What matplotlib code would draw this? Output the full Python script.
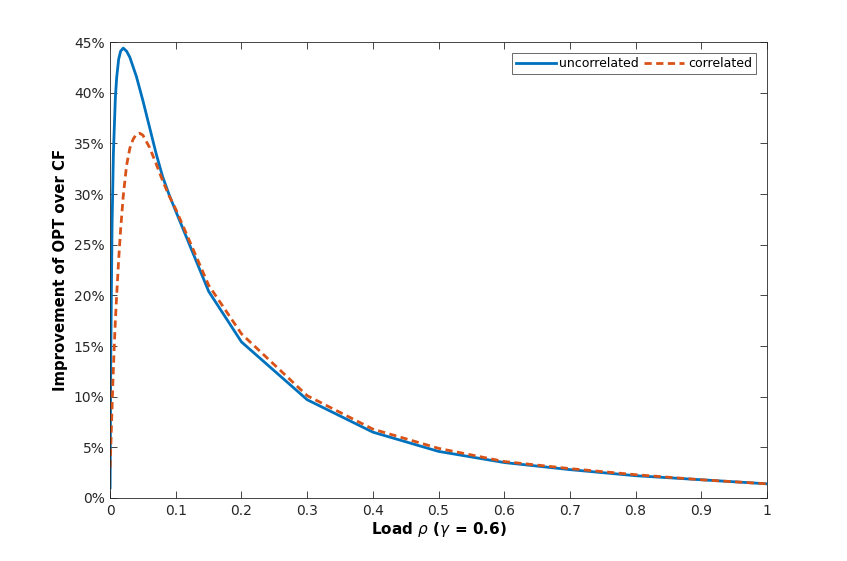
import matplotlib
matplotlib.use("Agg")
import matplotlib.pyplot as plt
from matplotlib.ticker import FuncFormatter

# load values and improvement (%)
load_unc = [0, 0.001, 0.003, 0.005, 0.008, 0.01, 0.013, 0.016, 0.02, 0.025, 0.03,
            0.04, 0.05, 0.06, 0.07, 0.08, 0.09, 0.1, 0.15, 0.2, 0.3, 0.4, 0.5,
            0.6, 0.7, 0.8, 0.9, 1.0]
imp_unc = [1.0, 14.0, 27.0, 34.0, 39.5, 41.5, 43.3, 44.1, 44.4, 44.1, 43.5,
           41.6, 39.2, 36.6, 34.0, 31.7, 29.9, 28.3, 20.4, 15.4, 9.7, 6.5, 4.6,
           3.5, 2.8, 2.2, 1.8, 1.4]

load_cor = [0, 0.002, 0.004, 0.006, 0.008, 0.01, 0.013, 0.016, 0.02, 0.025, 0.03,
            0.035, 0.04, 0.045, 0.05, 0.06, 0.07, 0.08, 0.09, 0.1, 0.15, 0.2,
            0.3, 0.4, 0.5, 0.6, 0.7, 0.8, 0.9, 1.0]
imp_cor = [3.0, 7.0, 11.0, 14.5, 17.5, 20.0, 23.5, 26.5, 29.8, 32.8, 34.5,
           35.4, 35.9, 36.0, 35.8, 34.6, 33.0, 31.3, 29.8, 28.5, 21.0, 16.2,
           10.1, 6.8, 4.9, 3.6, 2.9, 2.3, 1.8, 1.4]

xticks = [0, 0.1, 0.2, 0.3, 0.4, 0.5, 0.6, 0.7, 0.8, 0.9, 1]
xtick_labels = ["0", "0.1", "0.2", "0.3", "0.4", "0.5", "0.6", "0.7", "0.8", "0.9", "1"]
yticks = list(range(0, 50, 5))

fig = plt.figure(figsize=(8.47, 5.61), dpi=100)
ax = fig.add_axes([0.13, 0.1123, 0.7755, 0.8128])

ax.plot(load_unc, imp_unc, color="#0072BD", lw=2.0, label="uncorrelated")
ax.plot(load_cor, imp_cor, color="#D95319", lw=2.0, ls=(0, (2.6, 1.6)), label="correlated")

ax.set_xlim(0, 1)
ax.set_ylim(0, 45)
ax.set_xticks(xticks)
ax.set_xticklabels(xtick_labels)
ax.set_yticks(yticks)
ax.yaxis.set_major_formatter(FuncFormatter(lambda v, p: f"{v:.0f}%"))

ax.tick_params(direction="in", top=True, right=True, length=5, width=0.6,
               labelsize=10, colors="#262626", pad=4)
for s in ax.spines.values():
    s.set_linewidth(0.6)
    s.set_color("#262626")

ax.set_xlabel(r"Load $\rho$ ($\gamma$ = 0.6)", fontsize=11, fontweight="bold", labelpad=2)
ax.set_ylabel("Improvement of OPT over CF", fontsize=10.7, fontweight="bold", labelpad=4)

leg = ax.legend(loc="upper right", ncol=2, fontsize=9, frameon=True, fancybox=False,
                handlelength=3.2, columnspacing=0.4, handletextpad=0.3,
                borderpad=0.3, borderaxespad=0.9)
leg.get_frame().set_edgecolor("#262626")
leg.get_frame().set_linewidth(0.6)

fig.savefig("out.png", dpi=100)
